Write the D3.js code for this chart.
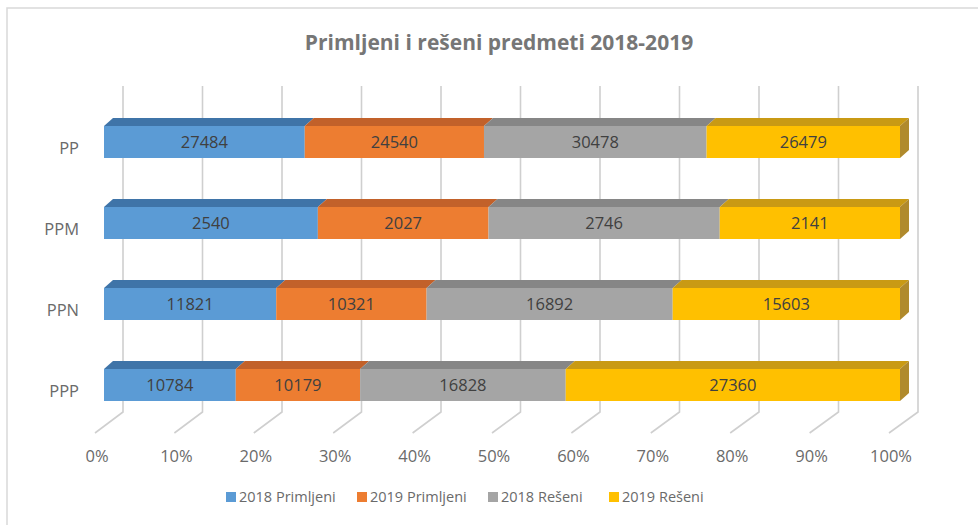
<!DOCTYPE html>
<html>
<head>
<meta charset="utf-8">
<script src="https://cdn.jsdelivr.net/npm/d3@7"></script>
<style>
  body { margin: 0; background: #fff; }
  svg text { font-family: "Open Sans", "DejaVu Sans", sans-serif; }
</style>
</head>
<body>
<svg id="chart" width="978" height="525"></svg>
<script>
// data
var categories = ["PP", "PPM", "PPN", "PPP"];
var seriesNames = ["2018 Primljeni", "2019 Primljeni", "2018 Rešeni", "2019 Rešeni"];
var s2018Primljeni = [27484, 2540, 11821, 10784];
var s2019Primljeni = [24540, 2027, 10321, 10179];
var s2018Reseni = [30478, 2746, 16892, 16828];
var s2019Reseni = [26479, 2141, 15603, 27360];
var tickValues = [0, 0.1, 0.2, 0.3, 0.4, 0.5, 0.6, 0.7, 0.8, 0.9, 1];

var series = [s2018Primljeni, s2019Primljeni, s2018Reseni, s2019Reseni];
var frontCol = ["#5b9bd5", "#ed7d31", "#a5a5a5", "#ffc000"];
var topCol = ["#3f74a8", "#c2612a", "#868686", "#c99a14"];
var sideCol = ["#3a6690", "#a0541f", "#6f6f6f", "#b08a2c"];

var svg = d3.select("#chart");

// frame
svg.append("rect")
  .attr("x", 7).attr("y", 8)
  .attr("width", 990).attr("height", 540)
  .attr("fill", "none")
  .attr("stroke", "#d9d9d9")
  .attr("stroke-width", 1.5);

// title
svg.append("text")
  .attr("x", 499).attr("y", 50)
  .attr("text-anchor", "middle")
  .style("font-size", "21px")
  .style("font-weight", "bold")
  .style("fill", "#767676")
  .text("Primljeni i rešeni predmeti 2018-2019");

// scales: front of the bars, back wall, front edge of the floor
var x = d3.scaleLinear().domain([0, 1]).range([104, 900]);
var xBack = d3.scaleLinear().domain([0, 1]).range([123, 918]);
var xFloor = d3.scaleLinear().domain([0, 1]).range([95, 889]);
var y = d3.scalePoint().domain(categories).range([126, 369]);
var barH = 32, dx = 9, dy = -8;
var wallTop = 86, wallBottom = 412, floorFront = 433;

// gridlines: back wall + floor
var grid = svg.append("g");
tickValues.forEach(function(t) {
  grid.append("path")
    .attr("d", "M" + xBack(t) + "," + wallTop + " V" + wallBottom +
               " L" + xFloor(t) + "," + floorFront)
    .attr("fill", "none")
    .attr("stroke", "#cfcfcf")
    .attr("stroke-width", 1.6);
});

// tick labels
svg.append("g").selectAll("text")
  .data(tickValues)
  .join("text")
    .attr("x", function(d) { return xFloor(d) + 2; })
    .attr("y", 462)
    .attr("text-anchor", "middle")
    .style("font-size", "16.5px")
    .style("fill", "#6a6a6a")
    .text(d3.format(".0%"));

// category labels
svg.append("g").selectAll("text")
  .data(categories)
  .join("text")
    .attr("x", 79)
    .attr("y", function(d) { return y(d) + barH / 2 + 12; })
    .attr("text-anchor", "end")
    .style("font-size", "16.5px")
    .style("fill", "#6a6a6a")
    .text(function(d) { return d; });

// bars
categories.forEach(function(cat, i) {
  var vals = series.map(function(s) { return s[i]; });
  var total = d3.sum(vals);
  var y0 = y(cat);
  var acc = 0;
  var g = svg.append("g");
  vals.forEach(function(v, k) {
    var a = x(acc / total);
    acc += v;
    var b = x(acc / total);
    // front face
    g.append("rect")
      .attr("x", a).attr("y", y0)
      .attr("width", b - a).attr("height", barH)
      .attr("fill", frontCol[k]);
    // top face
    g.append("path")
      .attr("d", "M" + a + "," + y0 + " L" + b + "," + y0 +
                 " L" + (b + dx) + "," + (y0 + dy) + " L" + (a + dx) + "," + (y0 + dy) + "Z")
      .attr("fill", topCol[k]);
    // right side only on the last segment
    if (k == vals.length - 1) {
      g.append("path")
        .attr("d", "M" + b + "," + y0 + " L" + (b + dx) + "," + (y0 + dy) +
                   " L" + (b + dx) + "," + (y0 + dy + barH) + " L" + b + "," + (y0 + barH) + "Z")
        .attr("fill", sideCol[k]);
    }
    // value label
    g.append("text")
      .attr("x", (a + b) / 2)
      .attr("y", y0 + barH / 2 + 6)
      .attr("text-anchor", "middle")
      .style("font-size", "16.5px")
      .style("fill", "#404040")
      .text(v);
  });
});

// legend
var legendX = [226, 357, 488, 609];
var legend = svg.append("g").selectAll("g")
  .data(seriesNames)
  .join("g")
    .attr("transform", function(d, k) { return "translate(" + legendX[k] + ",492)"; });
legend.append("rect")
  .attr("width", 10).attr("height", 10)
  .attr("fill", function(d, k) { return frontCol[k]; });
legend.append("text")
  .attr("x", 13).attr("y", 10)
  .style("font-size", "14.5px")
  .style("fill", "#6a6a6a")
  .text(function(d) { return d; });
</script>
</body>
</html>
